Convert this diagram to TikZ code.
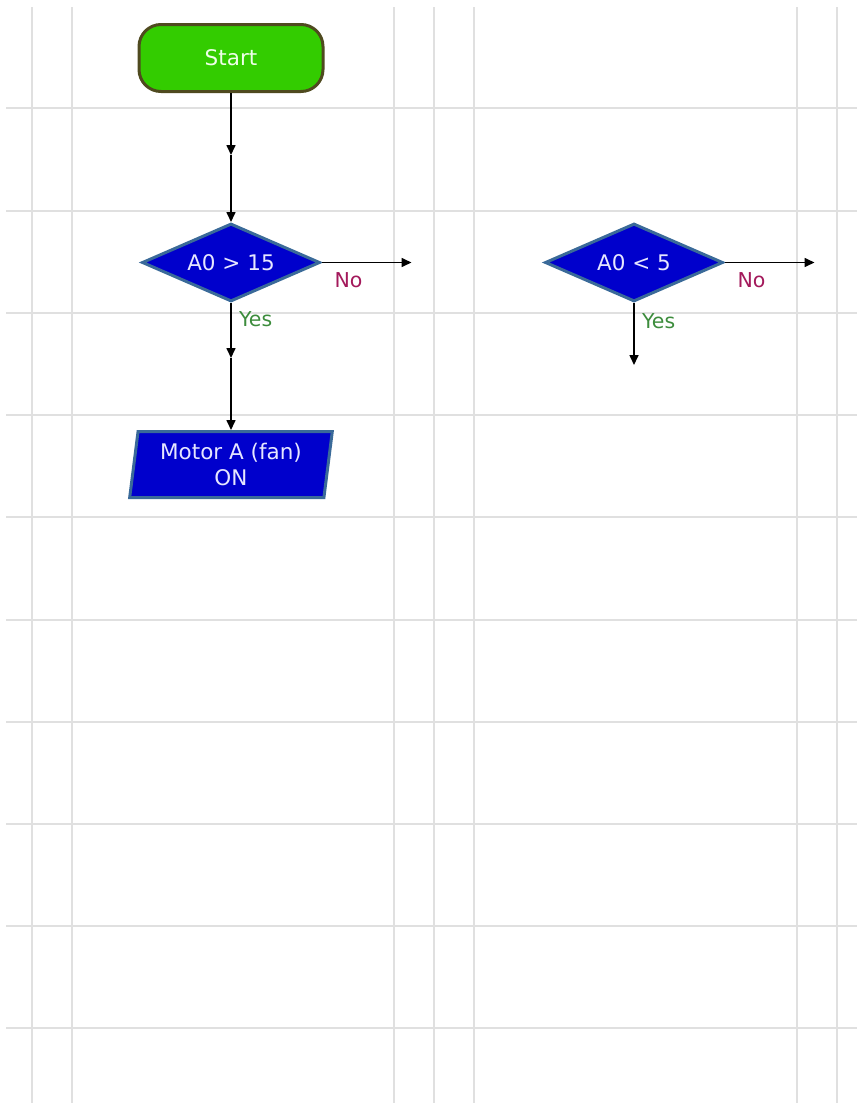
\documentclass[tikz,border=0pt]{standalone}
\usepackage{fontspec}
\setsansfont{DejaVu Sans}
\usepackage{tikz}
\usetikzlibrary{
  arrows.meta, positioning, shapes.geometric
}
\definecolor{colGreen500}  {HTML}{33CC00}
\definecolor{colOlive800}  {HTML}{4F4A1F}
\definecolor{colMint50}    {HTML}{EEFFE8}
\definecolor{colBlue700}   {HTML}{0000CC}
\definecolor{colSteel600}  {HTML}{3A6A99}
\definecolor{colLav50}     {HTML}{E6E6FF}
\definecolor{colCrimson600}{HTML}{A3195B}
\definecolor{colLeaf600}   {HTML}{3C8C3C}
\definecolor{colGrid200}   {HTML}{E0E0E0}
\tikzset{
  fbox/.style={
    draw, line width=3pt, align=center, inner sep=2pt,
    font=\sffamily\fontsize{21.5}{26}\selectfont
  },
  fstart/.style={
    fbox, rounded corners=22pt,
    minimum width=184pt, minimum height=67pt,
    fill=colGreen500, draw=colOlive800, text=colMint50
  },
  fdec/.style={
    fbox, diamond, aspect=2.3,
    minimum width=178pt, minimum height=78pt,
    fill=colBlue700, draw=colSteel600, text=colLav50
  },
  fout/.style={
    fbox, trapezium, trapezium stretches=true,
    trapezium left angle=82, trapezium right angle=98,
    minimum width=203pt, minimum height=66pt,
    fill=colBlue700, draw=colSteel600, text=colLav50
  },
  farr/.style={
    -{Triangle[length=10pt,width=9pt]},
    line width=1.6pt, draw=black
  },
  nolabel/.style ={font=\sffamily\fontsize{20.5}{24}\selectfont, text=colCrimson600,
    yshift=-6pt},
  yeslabel/.style={font=\sffamily\fontsize{20.5}{24}\selectfont, text=colLeaf600,
    xshift=4pt},
  gridline/.style={draw=colGrid200, line width=2pt}
}

\begin{document}
\begin{tikzpicture}[x=1pt, y=1pt]
  \useasboundingbox (0,0) rectangle (857,-1103);

  %% ── Background grid ───────────────────────────────────────────
  \foreach \gx in {32,72,394,434,474,797,837}
    \draw[gridline] (\gx,-7) -- (\gx,-1103);
  \foreach \gy in {108,211,313,415,517,620,722,824,926,1028}
    \draw[gridline] (6,-\gy) -- (857,-\gy);

  %% ── Column 1: Start, first test, motor output ─────────────────
  \node[fstart] (start) at (231,-58) {Start};

  \node[fdec, below=129pt of start] (dec1) {A0 > 15};

  \node[fout, below=127pt of dec1] (motor) {Motor A (fan)\\ON};

  \coordinate[below=62pt of start.south] (arr1mid);
  \coordinate[below=55pt of dec1.south]  (arr2mid);
  \coordinate[right=90pt of dec1.east]   (dec1no);

  %% ── Column 2: second test ─────────────────────────────────────
  \node[fdec, right=222pt of dec1] (dec2) {A0 < 5};

  \coordinate[right=90pt of dec2.east]  (dec2no);
  \coordinate[below=62pt of dec2.south] (dec2yes);

  %% ── Connectors ────────────────────────────────────────────────
  \draw[farr] (start.south) -- (arr1mid);
  \draw[farr] (arr1mid) -- (dec1.north);

  \draw[farr] (dec1.east) -- node[nolabel, pos=0.3, below] {No} (dec1no);
  \draw[farr] (dec1.south) -- node[yeslabel, pos=0.3, right] {Yes} (arr2mid);
  \draw[farr] (arr2mid) -- (motor.north);

  \draw[farr] (dec2.east) -- node[nolabel, pos=0.3, below] {No} (dec2no);
  \draw[farr] (dec2.south) -- node[yeslabel, pos=0.3, right] {Yes} (dec2yes);

\end{tikzpicture}
\end{document}
